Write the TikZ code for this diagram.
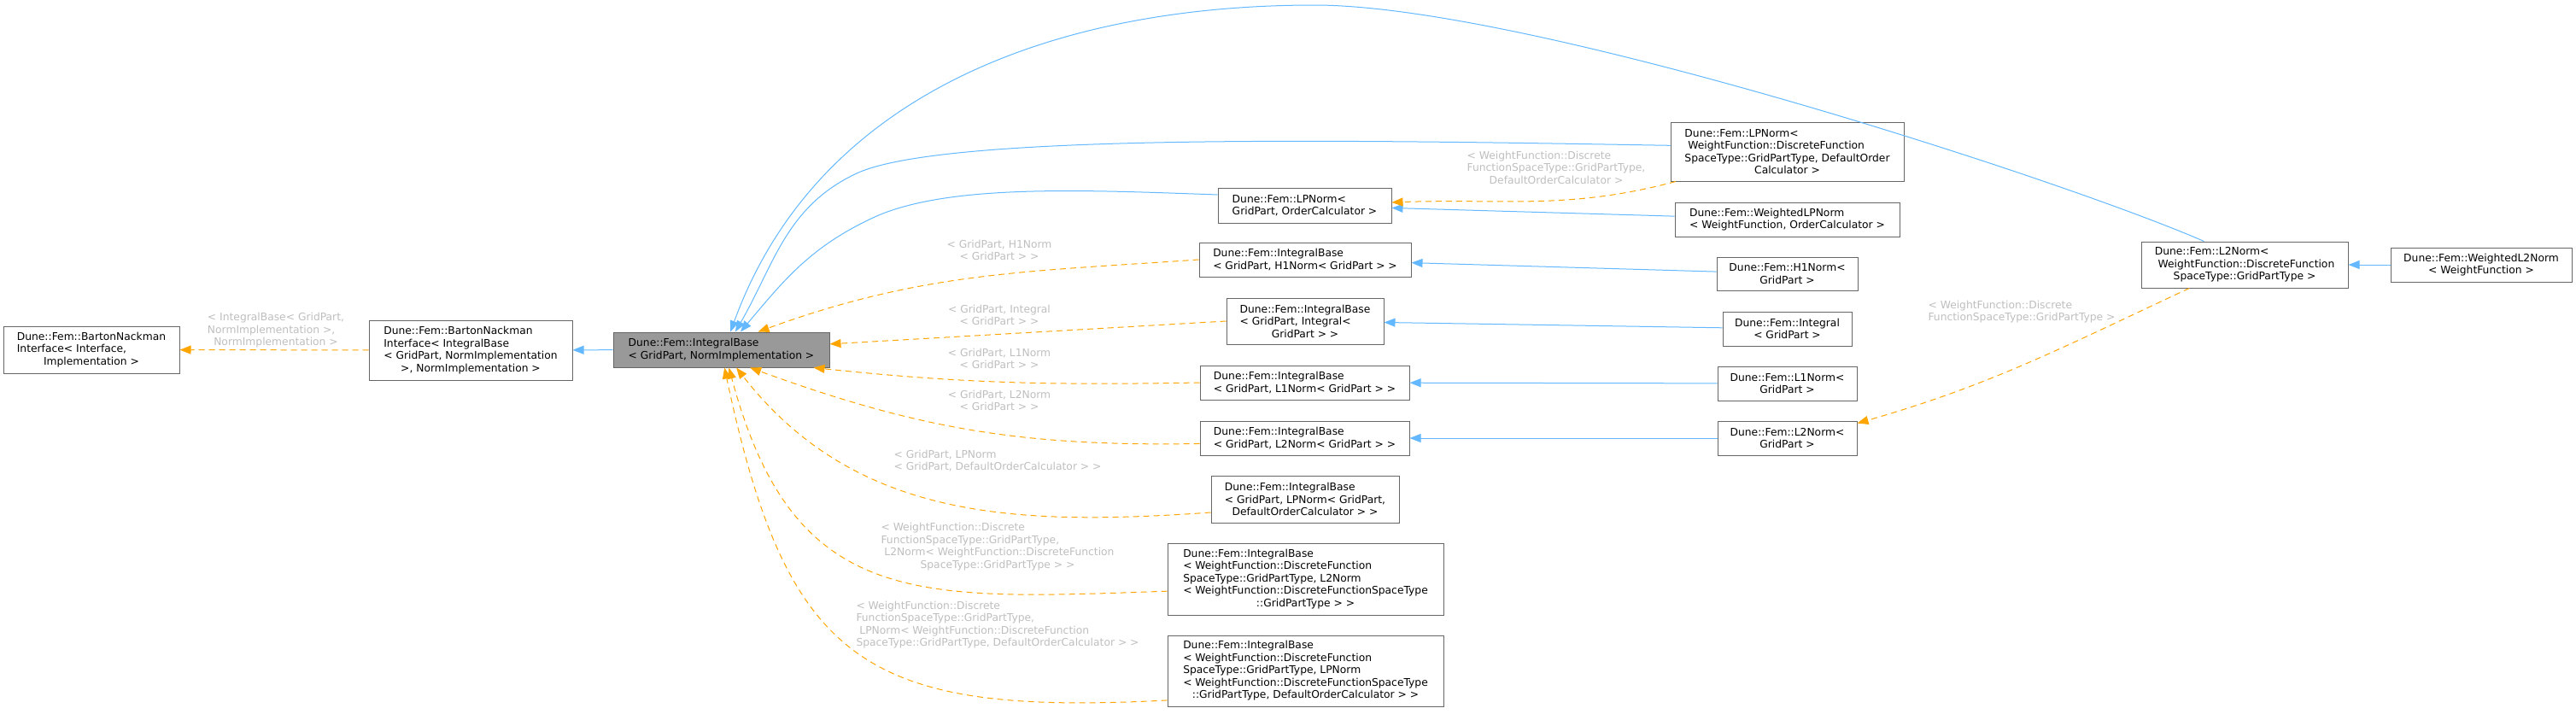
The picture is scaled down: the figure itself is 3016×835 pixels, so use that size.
\documentclass[tikz,border=0pt]{standalone}
\usepackage{fontspec}
\setmainfont{DejaVu Sans}
\usetikzlibrary{arrows.meta,positioning}

\definecolor{inhblue}{HTML}{63B8FF}
\definecolor{tplorange}{HTML}{FFA500}
\definecolor{boxline}{HTML}{666666}
\definecolor{basefill}{HTML}{999999}
\definecolor{tplgray}{HTML}{BEBEBE}
\newcommand{\dfont}{\fontsize{12.3pt}{14.5pt}\selectfont}
\newcommand{\lastc}{\null\hfil}

\begin{document}
\begin{tikzpicture}[
    x=1pt, y=1pt,
    cls/.style 2 args={
        rectangle,
        draw=boxline,
        fill=white,
        line width=1pt,
        inner sep=0pt,
        align=left,
        font=\dfont,
        minimum width=#1pt,
        minimum height=#2pt
    },
    basecls/.style 2 args={cls={#1}{#2}, fill=basefill},
    inh/.style={-{Triangle[length=13pt, width=10pt]}, draw=inhblue, line width=1pt},
    tpl/.style={inh, draw=tplorange, dash pattern=on 7pt off 5pt},
    tlabel/.style={align=left, font=\dfont, text=tplgray, inner sep=0pt}
]
\useasboundingbox (0,0) rectangle (3016,-835);

% Base classes
\node[cls={206}{55}] (bni) at (107,-409.5) {Dune::Fem::BartonNackman\\Interface< Interface,\\ \lastc Implementation >};
\node[cls={238}{70}] (bnib) at (551,-410) {Dune::Fem::BartonNackman\\Interface< IntegralBase\\< GridPart, NormImplementation\\ \lastc >, NormImplementation >};
\node[basecls={253}{41}] (main) at (844.5,-409.5) {Dune::Fem::IntegralBase\\< GridPart, NormImplementation >};

% Middle column
\node[cls={203}{41}] (lpnorm) at (1527.5,-240.5) {Dune::Fem::LPNorm<\\ \lastc GridPart, OrderCalculator >};
\node[cls={248}{40}] (ibh1) at (1528,-304) {Dune::Fem::IntegralBase\\< GridPart, H1Norm< GridPart > >};
\node[cls={184}{54}] (ibint) at (1528,-376) {Dune::Fem::IntegralBase\\< GridPart, Integral<\\ \lastc GridPart > >};
\node[cls={245}{40}] (ibl1) at (1527.5,-448) {Dune::Fem::IntegralBase\\< GridPart, L1Norm< GridPart > >};
\node[cls={245}{40}] (ibl2) at (1527.5,-513) {Dune::Fem::IntegralBase\\< GridPart, L2Norm< GridPart > >};
\node[cls={220}{55}] (iblp) at (1528,-584.5) {Dune::Fem::IntegralBase\\< GridPart, LPNorm< GridPart,\\ \lastc DefaultOrderCalculator > >};
\node[cls={323}{84}] (ibwl2) at (1528.5,-678) {Dune::Fem::IntegralBase\\< WeightFunction::DiscreteFunction\\SpaceType::GridPartType, L2Norm\\< WeightFunction::DiscreteFunctionSpaceType\\ \lastc ::GridPartType > >};
\node[cls={323}{83}] (ibwlp) at (1528.5,-785.5) {Dune::Fem::IntegralBase\\< WeightFunction::DiscreteFunction\\SpaceType::GridPartType, LPNorm\\< WeightFunction::DiscreteFunctionSpaceType\\ \lastc ::GridPartType, DefaultOrderCalculator > >};

% Right column
\node[cls={273}{69}] (lpwf) at (2092.5,-177.5) {Dune::Fem::LPNorm<\\\ WeightFunction::DiscreteFunction\\SpaceType::GridPartType, DefaultOrder\\ \lastc Calculator >};
\node[cls={263}{40}] (wlpnorm) at (2092.5,-257) {Dune::Fem::WeightedLPNorm\\< WeightFunction, OrderCalculator >};
\node[cls={165}{39}] (h1norm) at (2092.5,-320.5) {Dune::Fem::H1Norm<\\ \lastc GridPart >};
\node[cls={151}{40}] (integral) at (2092.5,-385) {Dune::Fem::Integral\\ \lastc < GridPart >};
\node[cls={163}{40}] (l1norm) at (2092.5,-449) {Dune::Fem::L1Norm<\\ \lastc GridPart >};
\node[cls={163}{40}] (l2norm) at (2092.5,-513) {Dune::Fem::L2Norm<\\ \lastc GridPart >};
\node[cls={242}{54}] (l2wf) at (2628,-310) {Dune::Fem::L2Norm<\\\ WeightFunction::DiscreteFunction\\ \lastc SpaceType::GridPartType >};
\node[cls={212}{40}] (wl2norm) at (2905,-310) {Dune::Fem::WeightedL2Norm\\ \lastc < WeightFunction >};

% Template arguments
\node[tlabel] (lb-bni) at (323,-387) {< IntegralBase< GridPart,\\NormImplementation >,\\ \lastc NormImplementation >};
\node[tlabel] (lb-h1) at (1170,-293) {< GridPart, H1Norm\\ \lastc < GridPart > >};
\node[tlabel] (lb-int) at (1170,-369) {< GridPart, Integral\\ \lastc < GridPart > >};
\node[tlabel] (lb-l1) at (1170,-420) {< GridPart, L1Norm\\ \lastc < GridPart > >};
\node[tlabel] (lb-l2) at (1170,-469) {< GridPart, L2Norm\\ \lastc < GridPart > >};
\node[tlabel] (lb-lp) at (1168,-539.5) {< GridPart, LPNorm\\ \lastc < GridPart, DefaultOrderCalculator > >};
\node[tlabel] (lb-wl2) at (1168,-640) {< WeightFunction::Discrete\\FunctionSpaceType::GridPartType,\\\ L2Norm< WeightFunction::DiscreteFunction\\ \lastc SpaceType::GridPartType > >};
\node[tlabel] (lb-wlp) at (1168,-731.5) {< WeightFunction::Discrete\\FunctionSpaceType::GridPartType,\\\ LPNorm< WeightFunction::DiscreteFunction\\ \lastc SpaceType::GridPartType, DefaultOrderCalculator > >};
\node[tlabel] (lb-lpwf) at (1822,-196) {< WeightFunction::Discrete\\FunctionSpaceType::GridPartType,\\ \lastc DefaultOrderCalculator >};
\node[tlabel] (lb-l2wf) at (2367,-365) {< WeightFunction::Discrete\\ \lastc FunctionSpaceType::GridPartType >};

% Inheritance
\draw[inh] (main) -- (bnib);
\draw[inh] (h1norm) -- (ibh1);
\draw[inh] (integral) -- (ibint);
\draw[inh] (l1norm) -- (ibl1);
\draw[inh] (l2norm) -- (ibl2);
\draw[inh] (wlpnorm) -- (lpnorm);
\draw[inh] (wl2norm) -- (l2wf);
\draw[inh] (lpnorm.173) to[out=178, in=25, in looseness=0.6] (1022,-255) to[out=205, in=50] (main.43);
\draw[inh] (lpwf.177) to[out=179, in=25, in looseness=0.3] (1003,-203) to[out=205, in=60] (main.52);
\draw[inh] (l2wf.150) .. controls +(-160,70) and +(250,0) .. (1539,-6) .. controls +(-300,0) and +(103,282) .. (main.63);

% Template instances
\draw[tpl] (bnib) -- (bni);
\draw[tpl] (ibh1.west) to[out=184, in=20] (main.26);
\draw[tpl] (ibint.west) -- (main.3);
\draw[tpl] (ibl1.west) to[out=181, in=-6] (main.349);
\draw[tpl] (ibl2.183) to[out=181, in=-20] (main.328);
\draw[tpl] (iblp.188) to[out=184, in=-52] (main.310);
\draw[tpl] (ibwl2.185) to[out=182, in=-75, looseness=1.3] (main.293);
\draw[tpl] (ibwlp.192) to[out=183, in=-78, looseness=1.4] (main.280);
\draw[tpl] (lpwf.195) to[out=195, in=2] (lpnorm.2);
\draw[tpl] (l2wf.203) to[out=205, in=16] (l2norm.12);

\end{tikzpicture}
\end{document}
